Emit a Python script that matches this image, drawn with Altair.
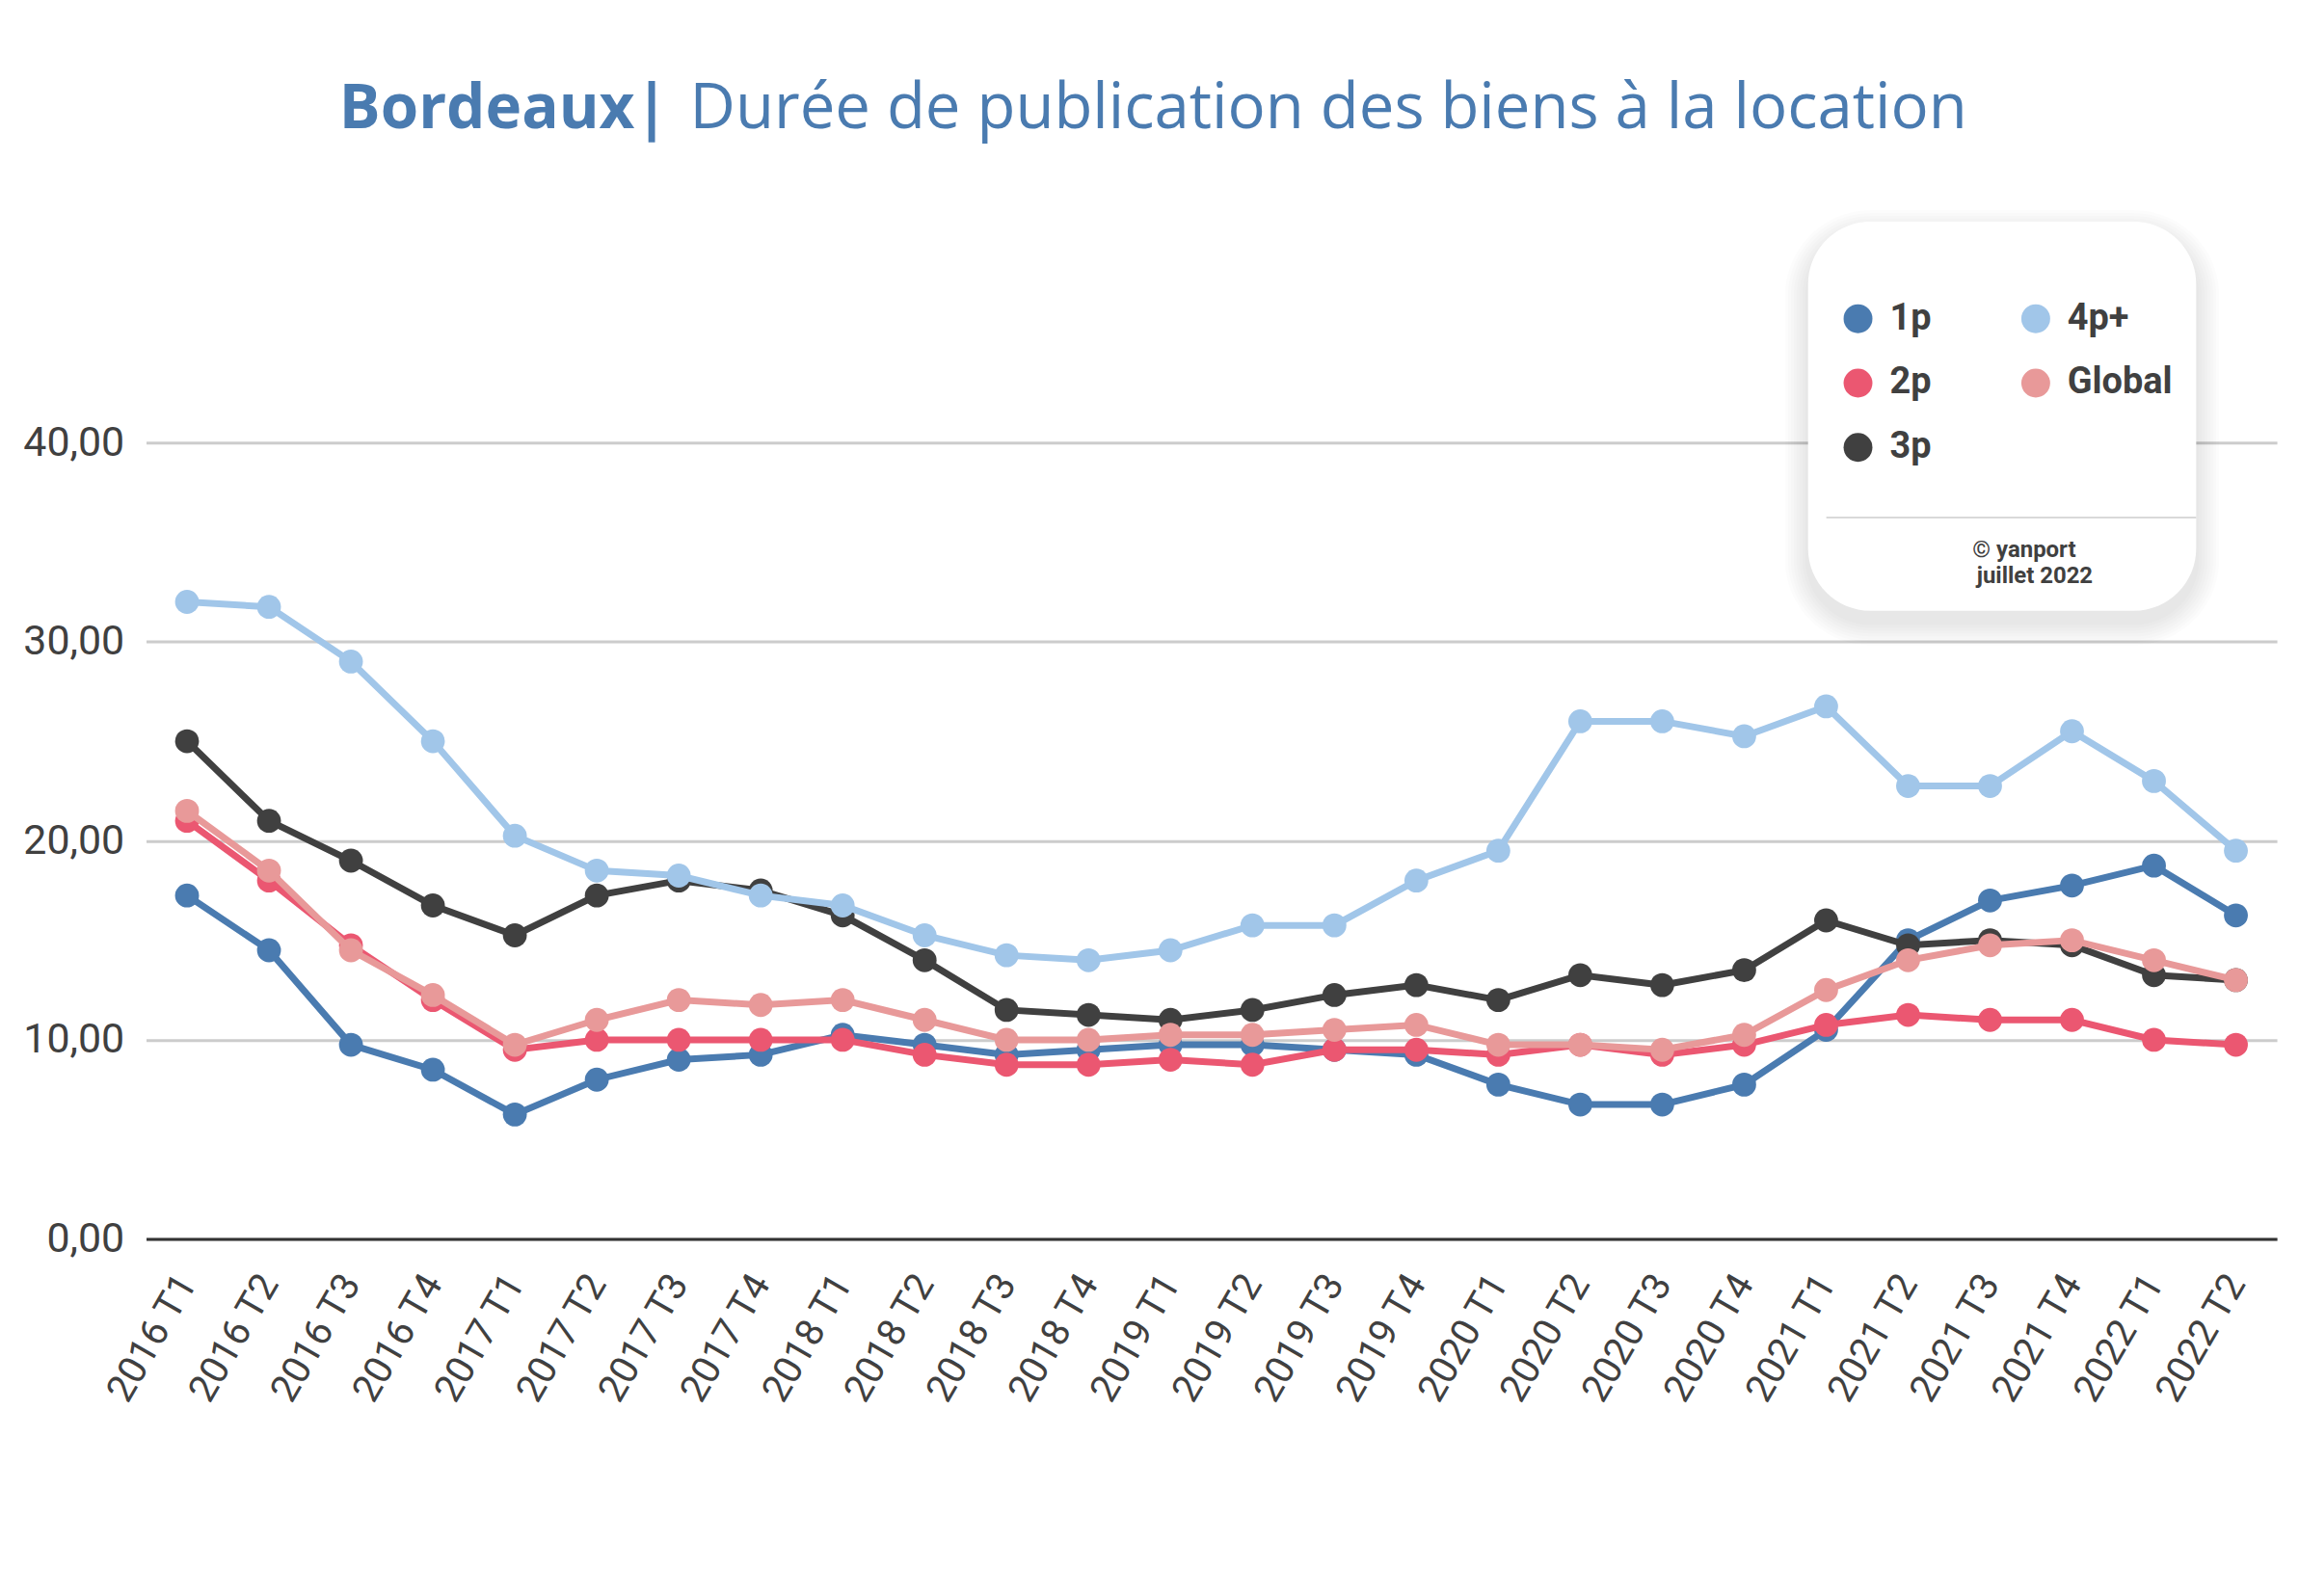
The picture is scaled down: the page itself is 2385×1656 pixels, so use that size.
import altair as alt
import pandas as pd

periodes = ["2016 T1", "2016 T2", "2016 T3", "2016 T4",
            "2017 T1", "2017 T2", "2017 T3", "2017 T4",
            "2018 T1", "2018 T2", "2018 T3", "2018 T4",
            "2019 T1", "2019 T2", "2019 T3", "2019 T4",
            "2020 T1", "2020 T2", "2020 T3", "2020 T4",
            "2021 T1", "2021 T2", "2021 T3", "2021 T4",
            "2022 T1", "2022 T2"]

v_1p = [17.25, 14.5, 9.75, 8.5, 6.25, 8.0, 9.0, 9.25, 10.25, 9.75, 9.25, 9.5, 9.75,
        9.75, 9.5, 9.25, 7.75, 6.75, 6.75, 7.75, 10.5, 15.0, 17.0, 17.75, 18.75, 16.25]
v_2p = [21.0, 18.0, 14.75, 12.0, 9.5, 10.0, 10.0, 10.0, 10.0, 9.25, 8.75, 8.75, 9.0,
        8.75, 9.5, 9.5, 9.25, 9.75, 9.25, 9.75, 10.75, 11.25, 11.0, 11.0, 10.0, 9.75]
v_3p = [25.0, 21.0, 19.0, 16.75, 15.25, 17.25, 18.0, 17.5, 16.25, 14.0, 11.5, 11.25, 11.0,
        11.5, 12.25, 12.75, 12.0, 13.25, 12.75, 13.5, 16.0, 14.75, 15.0, 14.75, 13.25, 13.0]
v_4p = [32.0, 31.75, 29.0, 25.0, 20.25, 18.5, 18.25, 17.25, 16.75, 15.25, 14.25, 14.0, 14.5,
        15.75, 15.75, 18.0, 19.5, 26.0, 26.0, 25.25, 26.75, 22.75, 22.75, 25.5, 23.0, 19.5]
v_global = [21.5, 18.5, 14.5, 12.25, 9.75, 11.0, 12.0, 11.75, 12.0, 11.0, 10.0, 10.0, 10.25,
            10.25, 10.5, 10.75, 9.75, 9.75, 9.5, 10.25, 12.5, 14.0, 14.75, 15.0, 14.0, 13.0]

series = ["1p", "2p", "3p", "4p+", "Global"]
couleurs = ["#4a7bb0", "#eb5771", "#404040", "#a1c6e9", "#e89999"]

rows = []
for s, vals in zip(series, [v_1p, v_2p, v_3p, v_4p, v_global]):
    for p, v in zip(periodes, vals):
        rows.append({"periode": p, "serie": s, "valeur": v})
df = pd.DataFrame(rows)

color_scale = alt.Scale(domain=series, range=couleurs)

x_enc = alt.X("periode:N", sort=periodes, title=None,
              scale=alt.Scale(type="point", padding=0.5),
              axis=alt.Axis(labelAngle=300, labelAlign="right", labelBaseline="middle",
                            ticks=False, grid=False, domain=True, domainColor="#333333",
                            domainWidth=3, labelPadding=40, labelFont="Roboto",
                            labelFontSize=40, labelColor="#404040"))
y_enc = alt.Y("valeur:Q", title=None,
              scale=alt.Scale(domain=[0, 40], nice=False),
              axis=alt.Axis(values=[0, 10, 20, 30, 40], domain=False, ticks=False,
                            grid=True, gridColor="#cccccc", gridWidth=3,
                            labelExpr="replace(format(datum.value, '.2f'), '.', ',')",
                            labelPadding=23, labelFont="Roboto", labelFontSize=43,
                            labelColor="#404040"))

legende = alt.Legend(orient="none", legendX=1763, legendY=-148, columns=2,
                     columnPadding=89, rowPadding=29, symbolType="circle",
                     symbolSize=900, symbolStrokeWidth=0, symbolOpacity=1,
                     labelFont="Roboto", labelFontSize=38, labelFontWeight="bold",
                     labelColor="#404040", labelOffset=14, title=None, padding=0)

color_enc = alt.Color("serie:N", scale=color_scale, legend=legende)

one = pd.DataFrame({"k": [0]})
layers = []

# legend box soft shadow + box
for i in range(8):
    e = 24 - i * 3
    layers.append(alt.Chart(one).mark_rect(color="#000000", opacity=0.013,
                                           cornerRadius=65 + e).encode(
        x=alt.value(1730 - e), x2=alt.value(2134 + e),
        y=alt.value(-230 - e + 12), y2=alt.value(175 + e + 12)))
layers.append(alt.Chart(one).mark_rect(color="#ffffff", cornerRadius=65).encode(
    x=alt.value(1730), x2=alt.value(2134), y=alt.value(-230), y2=alt.value(175)))
layers.append(alt.Chart(one).mark_rule(color="#d9d9d9", strokeWidth=2).encode(
    x=alt.value(1749), x2=alt.value(2134), y=alt.value(78)))
layers.append(alt.Chart(one).mark_text(text="© yanport", font="Roboto", fontWeight="bold",
                                       fontSize=24, color="#404040", align="center").encode(
    x=alt.value(1955), y=alt.value(112)))
layers.append(alt.Chart(one).mark_text(text="juillet 2022", font="Roboto", fontWeight="bold",
                                       fontSize=24, color="#404040", align="center").encode(
    x=alt.value(1966), y=alt.value(139)))

# title
layers.append(alt.Chart(one).mark_text(text="Bordeaux|", font="Open Sans", fontWeight="bold",
                                       fontSize=64, color="#4a7bb0", align="left",
                                       baseline="alphabetic").encode(
    x=alt.value(201), y=alt.value(-327)))
layers.append(alt.Chart(one).mark_text(text="Durée de publication des biens à la location",
                                       font="Open Sans", fontSize=65.5, color="#4a7bb0",
                                       align="left", baseline="alphabetic").encode(
    x=alt.value(566), y=alt.value(-327)))

base = alt.Chart(df)
for s in series:
    f = base.transform_filter(alt.datum.serie == s)
    layers.append(f.mark_line(strokeWidth=7).encode(x=x_enc, y=y_enc, color=color_enc))
    layers.append(f.mark_point(filled=True, size=620, opacity=1).encode(
        x=x_enc, y=y_enc, color=color_enc))

chart = alt.layer(*layers).properties(
    width=2218, height=829,
    autosize=alt.AutoSizeParams(type="none"),
    padding={"left": 144, "top": 450, "right": 15, "bottom": 369},
    background="#ffffff",
).configure_view(stroke=None)

chart.save("out.html", embed_options={"renderer": "svg", "actions": False})
